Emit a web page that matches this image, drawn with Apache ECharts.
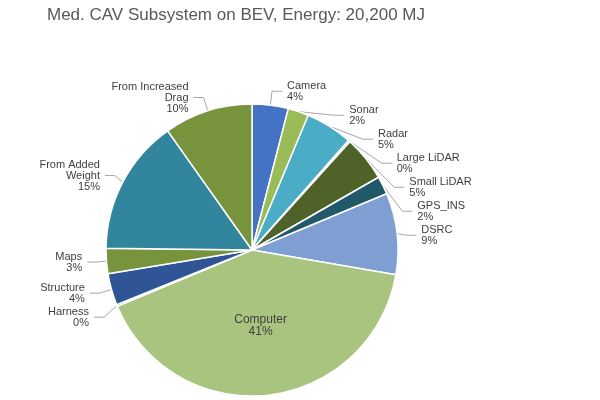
<!DOCTYPE html>
<html>
<head>
<meta charset="UTF-8">
<script src="https://cdn.jsdelivr.net/npm/echarts@6/dist/echarts.min.js"></script>
</head>
<body style="margin:0">
<div id="main" style="width:600px;height:400px;"></div>
<script>
var names = ['Camera', 'Sonar', 'Radar', 'Large LiDAR', 'Small LiDAR', 'GPS_INS', 'DSRC',
  'Computer', 'Harness', 'Structure', 'Maps', 'From Added\nWeight', 'From Increased\nDrag'];
var values = [4, 2.3, 5.2, 0.2, 5, 2, 9, 41, 0.2, 3.5, 2.8, 15, 9.8];
var pctLabels = ['4%', '2%', '5%', '0%', '5%', '2%', '9%', '41%', '0%', '4%', '3%', '15%', '10%'];
var colors = ['#4472C4', '#9BBB59', '#4BACC6', '#8064A2', '#4F6228', '#215968', '#7F9FD3',
  '#A9C47F', '#2C4D75', '#2F5597', '#77933C', '#31859C', '#77933C'];

var myChart = echarts.init(document.getElementById('main'));
var data = names.map(function (n, i) {
  var d = { name: n, value: values[i], itemStyle: { color: colors[i] } };
  if (n === 'Computer') {
    d.label = { position: 'inside', fontSize: 12 };
    d.labelLine = { show: false };
  }
  return d;
});
myChart.setOption({
  animation: false,
  title: {
    text: 'Med. CAV Subsystem on BEV, Energy: 20,200 MJ',
    left: 42, top: 2,
    textStyle: { fontFamily: 'Liberation Sans', fontSize: 17, fontWeight: 'normal', color: '#595959' }
  },
  series: [{
    type: 'pie',
    center: ['42%', '62.5%'],
    radius: 146,
    startAngle: 90,
    itemStyle: { borderColor: '#fff', borderWidth: 1.5 },
    label: {
      color: '#404040', fontSize: 11, fontFamily: 'Liberation Sans', align: 'center',
      formatter: function (p) { return p.name + '\n' + pctLabels[p.dataIndex]; }
    },
    labelLine: { length: 14, length2: 10, lineStyle: { color: '#a6a6a6' } },
    data: data
  }]
});
</script>
</body>
</html>
